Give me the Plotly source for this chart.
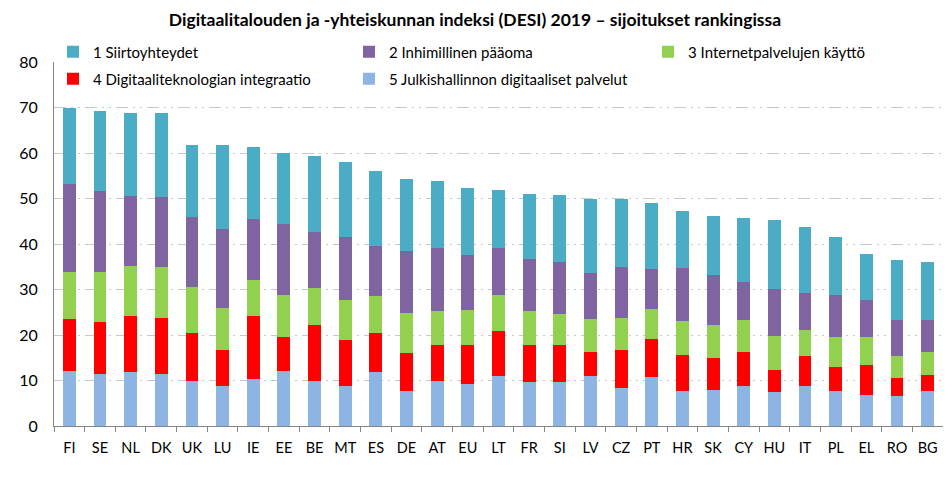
import plotly.graph_objects as go

countries = ["FI","SE","NL","DK","UK","LU","IE","EE","BE","MT","ES","DE","AT","EU",
             "LT","FR","SI","LV","CZ","PT","HR","SK","CY","HU","IT","PL","EL","RO","BG"]

# cumulative levels (top of each segment)
cum_total = [70.0,69.3,68.9,68.7,61.8,61.8,61.4,59.9,59.4,58.1,56.1,54.3,53.9,52.4,
             51.9,51.0,50.8,50.0,50.0,49.0,47.3,46.2,45.7,45.3,43.8,41.6,37.9,36.4,36.1]
cum_2 = [53.2,51.7,50.6,50.4,46.0,43.3,45.5,44.4,42.6,41.5,39.6,38.5,39.1,37.6,
         39.2,36.7,36.1,33.7,35.0,34.6,34.8,33.1,31.7,30.2,29.3,28.7,27.6,23.2,23.4]
cum_3 = [33.9,33.9,35.2,35.0,30.6,26.0,32.1,28.8,30.4,27.7,28.6,24.9,25.3,25.5,
         28.7,25.2,24.7,23.6,23.8,25.8,23.0,22.1,23.2,19.7,21.2,19.5,19.5,15.3,16.2]
cum_4 = [23.6,22.9,24.2,23.8,20.5,16.6,24.2,19.6,22.3,18.8,20.5,16.1,17.7,17.7,
         20.8,17.7,17.7,16.2,16.8,19.2,15.7,14.9,16.2,12.4,15.3,12.9,13.5,10.5,11.3]
s5_julkis = [12.0,11.5,11.8,11.5,10.0,8.9,10.4,12.0,9.8,8.9,11.8,7.8,10.0,9.3,
             10.9,9.6,9.6,11.1,8.3,10.7,7.8,8.0,8.7,7.4,8.7,7.8,6.9,6.5,7.6]

s4_digi = [round(a - b, 2) for a, b in zip(cum_4, s5_julkis)]
s3_internet = [round(a - b, 2) for a, b in zip(cum_3, cum_4)]
s2_inhim = [round(a - b, 2) for a, b in zip(cum_2, cum_3)]
s1_siirto = [round(a - b, 2) for a, b in zip(cum_total, cum_2)]

names = ["1 Siirtoyhteydet", "2 Inhimillinen pääoma", "3 Internetpalvelujen käyttö",
         "4 Digitaaliteknologian integraatio", "5 Julkishallinnon digitaaliset palvelut"]
colors = ["#4BACC6", "#8064A2", "#92D050", "#FF0000", "#8DB4E2"]
series = [s1_siirto, s2_inhim, s3_internet, s4_digi, s5_julkis]
legend_ids = ["legend", "legend2", "legend3", "legend4", "legend5"]
legend_pos = [(0.0477, 0.9068), (0.3616, 0.9068), (0.6787, 0.9068),
              (0.0477, 0.8496), (0.3616, 0.8496)]

FONT = "Lato"
fig = go.Figure()
for i in [4, 3, 2, 1, 0]:
    fig.add_trace(go.Bar(x=countries, y=series[i], name=names[i],
                         marker=dict(color=colors[i], line=dict(width=0)),
                         legend=legend_ids[i], showlegend=True))

leg_layout = {}
for lid, (lx, ly) in zip(legend_ids, legend_pos):
    leg_layout[lid] = dict(orientation="h", x=lx, y=ly, xref="container", yref="container",
                           xanchor="left", yanchor="middle",
                           bgcolor="rgba(0,0,0,0)", font=dict(family=FONT, size=15))

# the page body adds an 8px offset, so the figure is sized 943x472
fig.update_layout(
    width=943, height=472,
    showlegend=True,
    margin=dict(l=46, r=8, t=54, b=54, autoexpand=False),
    barmode="stack", bargap=0.58,
    plot_bgcolor="white", paper_bgcolor="white",
    font=dict(family=FONT, size=15, color="#000000"),
    title=dict(text="<b>Digitaalitalouden ja -yhteiskunnan indeksi (DESI) 2019 – sijoitukset rankingissa</b>",
               x=0.4952, xanchor="center", y=0.9746, yanchor="middle", yref="container",
               font=dict(family=FONT, size=17.5, color="#000000")),
    **leg_layout,
    xaxis=dict(type="category", showline=True, linecolor="#868686", linewidth=1,
               ticks="outside", tickson="boundaries", ticklen=5, tickcolor="#868686",
               showgrid=False, tickangle=0, tickfont=dict(size=14.5),
               ticklabelstandoff=9),
    yaxis=dict(range=[0, 80], dtick=10, showline=True, linecolor="#868686", linewidth=1,
               showgrid=True, gridcolor="#C8C8C8", griddash="12px,5px,2px,5px,2px,5px",
               gridwidth=1, ticks="", zeroline=False, tickfont=dict(size=16),
               ticklabelstandoff=12),
)

fig.write_html("out.html")
